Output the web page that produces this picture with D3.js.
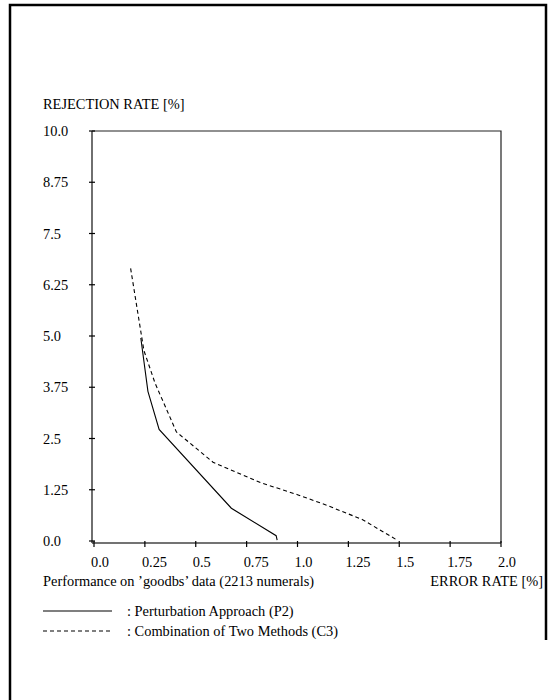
<!DOCTYPE html>
<html>
<head>
<meta charset="utf-8">
<script src="https://cdnjs.cloudflare.com/ajax/libs/d3/7.8.5/d3.min.js"></script>
<style>
  body { margin: 0; background: #fff; }
  svg text { font-family: "Liberation Serif", "Times New Roman", serif; fill: #000; }
</style>
</head>
<body>
<svg id="chart" width="553" height="700"></svg>
<script>
// tick values and labels
var xTicks = [0, 0.25, 0.5, 0.75, 1.0, 1.25, 1.5, 1.75, 2.0];
var xTickLabels = ['0.0', '0.25', '0.5', '0.75', '1.0', '1.25', '1.5', '1.75', '2.0'];
var yTicks = [0, 1.25, 2.5, 3.75, 5.0, 6.25, 7.5, 8.75, 10.0];
var yTickLabels = ['0.0', '1.25', '2.5', '3.75', '5.0', '6.25', '7.5', '8.75', '10.0'];

// series: [error rate, rejection rate]
var p2Error     = [0.23, 0.265, 0.32, 0.675, 0.895, 0.90];
var p2Rejection = [4.95, 3.65, 2.72, 0.80, 0.13, 0.02];
var c3Error     = [0.18, 0.245, 0.30, 0.405, 0.585, 0.82, 1.0, 1.15, 1.32, 1.49];
var c3Rejection = [6.65, 4.65, 3.85, 2.66, 1.92, 1.42, 1.13, 0.86, 0.52, 0.02];

var legendLabels = [': Perturbation Approach (P2)', ': Combination of Two Methods (C3)'];

var fontSize = 14.4;

var svg = d3.select('#chart');

// outer page border
svg.append('path')
  .attr('d', 'M10,700V5H546V640')
  .attr('fill', 'none')
  .attr('stroke', '#000')
  .attr('stroke-width', 2.5);

var x = d3.scaleLinear().domain([0, 2]).range([94, 501]);
var y = d3.scaleLinear().domain([0, 10]).range([541, 131]);
var axisX = 92, axisY = 543;

// plot frame (top and right are plain lines)
svg.append('path')
  .attr('d', 'M' + axisX + ',' + y(10) + 'H' + x(2) + 'V' + axisY)
  .attr('fill', 'none')
  .attr('stroke', '#222')
  .attr('stroke-width', 1.2);

// y axis
var yAxis = svg.append('g');
yAxis.append('line')
  .attr('x1', axisX).attr('x2', axisX)
  .attr('y1', y(10)).attr('y2', axisY)
  .attr('stroke', '#333').attr('stroke-width', 1.4);
yAxis.selectAll('line.tick')
  .data(yTicks)
  .enter().append('line')
  .attr('class', 'tick')
  .attr('x1', axisX - 3).attr('x2', axisX + 3)
  .attr('y1', function (d) { return y(d); })
  .attr('y2', function (d) { return y(d); })
  .attr('stroke', '#000').attr('stroke-width', 1.2);
yAxis.selectAll('text')
  .data(yTicks)
  .enter().append('text')
  .attr('x', 43)
  .attr('y', function (d) { return y(d) + 5; })
  .attr('font-size', fontSize)
  .text(function (d, i) { return yTickLabels[i]; });

// x axis
var xAxis = svg.append('g');
xAxis.append('line')
  .attr('x1', axisX).attr('x2', x(2))
  .attr('y1', axisY).attr('y2', axisY)
  .attr('stroke', '#444').attr('stroke-width', 1.6);
xAxis.selectAll('line.tick')
  .data(xTicks)
  .enter().append('line')
  .attr('class', 'tick')
  .attr('x1', function (d) { return x(d); })
  .attr('x2', function (d) { return x(d); })
  .attr('y1', axisY - 2).attr('y2', axisY + 4)
  .attr('stroke', '#000').attr('stroke-width', 1.2);
xAxis.selectAll('text')
  .data(xTicks)
  .enter().append('text')
  .attr('x', function (d) { return x(d) - 3; })
  .attr('y', 567)
  .attr('font-size', fontSize)
  .text(function (d, i) { return xTickLabels[i]; });

// axis titles
svg.append('text').attr('x', 43).attr('y', 109).attr('font-size', fontSize)
  .text('REJECTION RATE [%]');
svg.append('text').attr('x', 43).attr('y', 586).attr('font-size', fontSize)
  .text('Performance on \u2019goodbs\u2019 data (2213 numerals)');
svg.append('text').attr('x', 543).attr('y', 586).attr('font-size', fontSize)
  .attr('text-anchor', 'end')
  .text('ERROR RATE [%]');

// curves
var line = d3.line()
  .x(function (d) { return x(d[0]); })
  .y(function (d) { return y(d[1]); });

var p2 = d3.zip(p2Error, p2Rejection);
var c3 = d3.zip(c3Error, c3Rejection);

svg.append('path')
  .datum(p2)
  .attr('d', line)
  .attr('fill', 'none')
  .attr('stroke', '#000')
  .attr('stroke-width', 1.1);

svg.append('path')
  .datum(c3)
  .attr('d', line)
  .attr('fill', 'none')
  .attr('stroke', '#000')
  .attr('stroke-width', 1.1)
  .attr('stroke-dasharray', '4,3');

// legend
var legend = svg.append('g');
legend.selectAll('line')
  .data(legendLabels)
  .enter().append('line')
  .attr('x1', 43).attr('x2', 112)
  .attr('y1', function (d, i) { return 611 + i * 20; })
  .attr('y2', function (d, i) { return 611 + i * 20; })
  .attr('stroke', '#000')
  .attr('stroke-width', 1.1)
  .attr('stroke-dasharray', function (d, i) { return i === 0 ? null : '4,3'; });
legend.selectAll('text')
  .data(legendLabels)
  .enter().append('text')
  .attr('x', 127)
  .attr('y', function (d, i) { return 616 + i * 20; })
  .attr('font-size', fontSize)
  .text(function (d) { return d; });
</script>
</body>
</html>
